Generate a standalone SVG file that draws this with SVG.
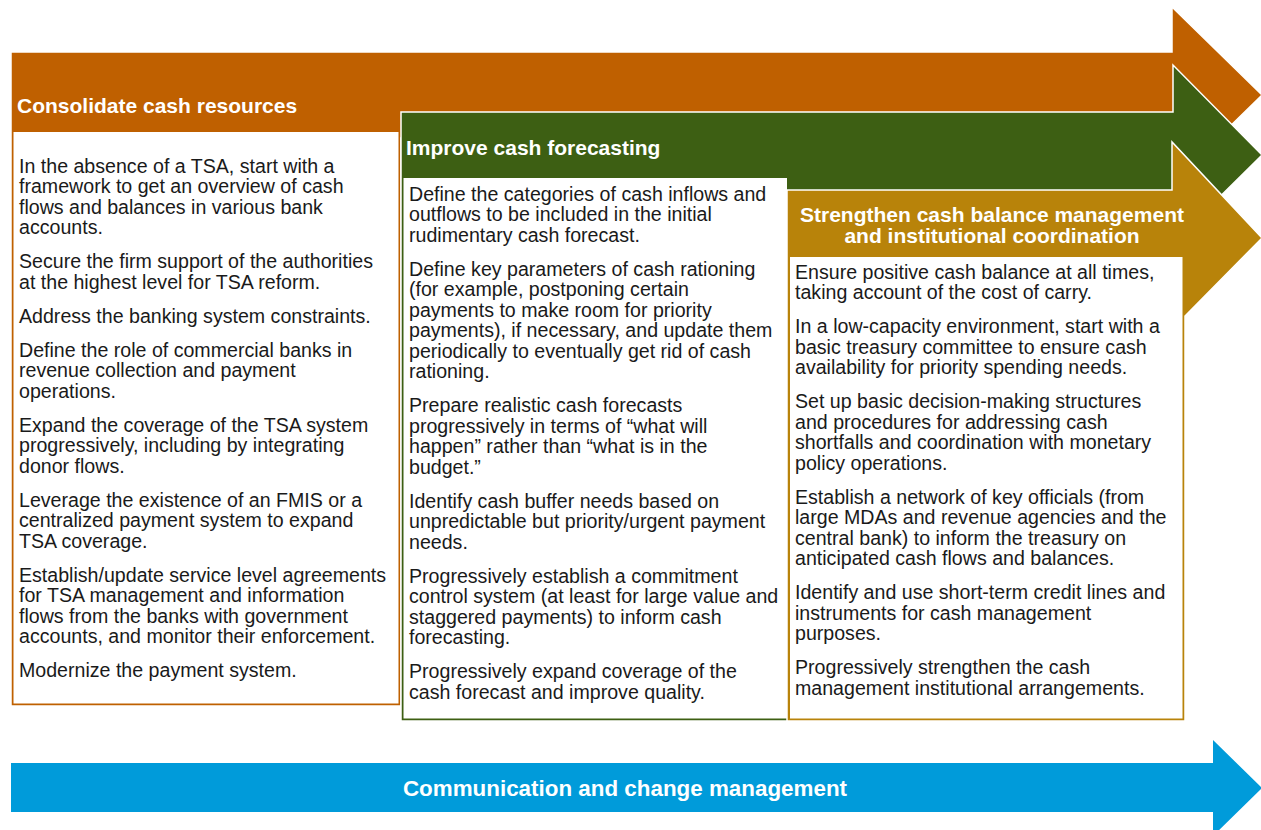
<svg xmlns="http://www.w3.org/2000/svg" width="1261" height="830" viewBox="0 0 1261 830">
<style>
.body{font-family:"Liberation Sans",Arial,sans-serif;font-size:19.6px;fill:#1a1a1a}
.hdr{font-family:"Liberation Sans",Arial,sans-serif;font-size:21px;font-weight:bold;fill:#ffffff}
.shape{stroke:#ffffff;stroke-width:1.5}
.box{fill:#ffffff}
</style>
<rect width="1261" height="830" fill="#ffffff"/>
<g id="consolidate">
<polygon class="shape" fill="#BF6000" points="11,52 1172,52 1172,7 1262,95 1172,183 1172,138 401,138 401,706 11,706"/>
<rect class="box" x="13.5" y="132" width="385" height="571.5"/>
<text class="hdr" x="17" y="113">Consolidate cash resources</text>
<text class="body" x="19">
<tspan x="19" y="172.5">In the absence of a TSA, start with a</tspan>
<tspan x="19" y="193">framework to get an overview of cash</tspan>
<tspan x="19" y="213.5">flows and balances in various bank</tspan>
<tspan x="19" y="234">accounts.</tspan>
<tspan x="19" y="268">Secure the firm support of the authorities</tspan>
<tspan x="19" y="288.5">at the highest level for TSA reform.</tspan>
<tspan x="19" y="322.5">Address the banking system constraints.</tspan>
<tspan x="19" y="356.5">Define the role of commercial banks in</tspan>
<tspan x="19" y="377">revenue collection and payment</tspan>
<tspan x="19" y="397.5">operations.</tspan>
<tspan x="19" y="431.5">Expand the coverage of the TSA system</tspan>
<tspan x="19" y="452">progressively, including by integrating</tspan>
<tspan x="19" y="472.5">donor flows.</tspan>
<tspan x="19" y="506.5">Leverage the existence of an FMIS or a</tspan>
<tspan x="19" y="527">centralized payment system to expand</tspan>
<tspan x="19" y="547.5">TSA coverage.</tspan>
<tspan x="19" y="581.5">Establish/update service level agreements</tspan>
<tspan x="19" y="602">for TSA management and information</tspan>
<tspan x="19" y="622.5">flows from the banks with government</tspan>
<tspan x="19" y="643">accounts, and monitor their enforcement.</tspan>
<tspan x="19" y="677">Modernize the payment system.</tspan>
</text>
</g>
<g id="forecasting">
<polygon class="shape" fill="#3D5F13" points="401,112 1173,112 1173,65 1262,155 1173,243 1173,193 789,193 789,721 401,721"/>
<rect class="box" x="403.5" y="178" width="383.5" height="540.5"/>
<text class="hdr" x="406" y="155">Improve cash forecasting</text>
<text class="body">
<tspan x="409" y="200.5">Define the categories of cash inflows and</tspan>
<tspan x="409" y="221">outflows to be included in the initial</tspan>
<tspan x="409" y="241.5">rudimentary cash forecast.</tspan>
<tspan x="409" y="275.5">Define key parameters of cash rationing</tspan>
<tspan x="409" y="296">(for example, postponing certain</tspan>
<tspan x="409" y="316.5">payments to make room for priority</tspan>
<tspan x="409" y="337">payments), if necessary, and update them</tspan>
<tspan x="409" y="357.5">periodically to eventually get rid of cash</tspan>
<tspan x="409" y="378">rationing.</tspan>
<tspan x="409" y="412">Prepare realistic cash forecasts</tspan>
<tspan x="409" y="432.5">progressively in terms of “what will</tspan>
<tspan x="409" y="453">happen” rather than “what is in the</tspan>
<tspan x="409" y="473.5">budget.”</tspan>
<tspan x="409" y="507.5">Identify cash buffer needs based on</tspan>
<tspan x="409" y="528">unpredictable but priority/urgent payment</tspan>
<tspan x="409" y="548.5">needs.</tspan>
<tspan x="409" y="582.5">Progressively establish a commitment</tspan>
<tspan x="409" y="603">control system (at least for large value and</tspan>
<tspan x="409" y="623.5">staggered payments) to inform cash</tspan>
<tspan x="409" y="644">forecasting.</tspan>
<tspan x="409" y="678">Progressively expand coverage of the</tspan>
<tspan x="409" y="698.5">cash forecast and improve quality.</tspan>
</text>
</g>
<g id="balance">
<polygon class="shape" fill="#B8830A" points="787,190 1172,190 1172,142 1262,238 1185,316 1185,721 787,721"/>
<rect class="box" x="790" y="257" width="392.5" height="461.5"/>
<text class="hdr" text-anchor="middle" x="992" y="221.5">Strengthen cash balance management</text>
<text class="hdr" text-anchor="middle" x="992" y="243">and institutional coordination</text>
<text class="body">
<tspan x="795" y="278.5">Ensure positive cash balance at all times,</tspan>
<tspan x="795" y="299">taking account of the cost of carry.</tspan>
<tspan x="795" y="333">In a low-capacity environment, start with a</tspan>
<tspan x="795" y="353.5">basic treasury committee to ensure cash</tspan>
<tspan x="795" y="374">availability for priority spending needs.</tspan>
<tspan x="795" y="408">Set up basic decision-making structures</tspan>
<tspan x="795" y="428.5">and procedures for addressing cash</tspan>
<tspan x="795" y="449">shortfalls and coordination with monetary</tspan>
<tspan x="795" y="469.5">policy operations.</tspan>
<tspan x="795" y="503.5">Establish a network of key officials (from</tspan>
<tspan x="795" y="524">large MDAs and revenue agencies and the</tspan>
<tspan x="795" y="544.5">central bank) to inform the treasury on</tspan>
<tspan x="795" y="565">anticipated cash flows and balances.</tspan>
<tspan x="795" y="599">Identify and use short-term credit lines and</tspan>
<tspan x="795" y="619.5">instruments for cash management</tspan>
<tspan x="795" y="640">purposes.</tspan>
<tspan x="795" y="674">Progressively strengthen the cash</tspan>
<tspan x="795" y="694.5">management institutional arrangements.</tspan>
</text>
</g>
<g id="communication">
<polygon fill="#009BDA" points="11,763 1213,763 1213,740 1262,788 1213,836 1213,812 11,812"/>
<text class="hdr" style="font-size:22.4px" text-anchor="middle" x="625" y="796">Communication and change management</text>
</g>
</svg>
